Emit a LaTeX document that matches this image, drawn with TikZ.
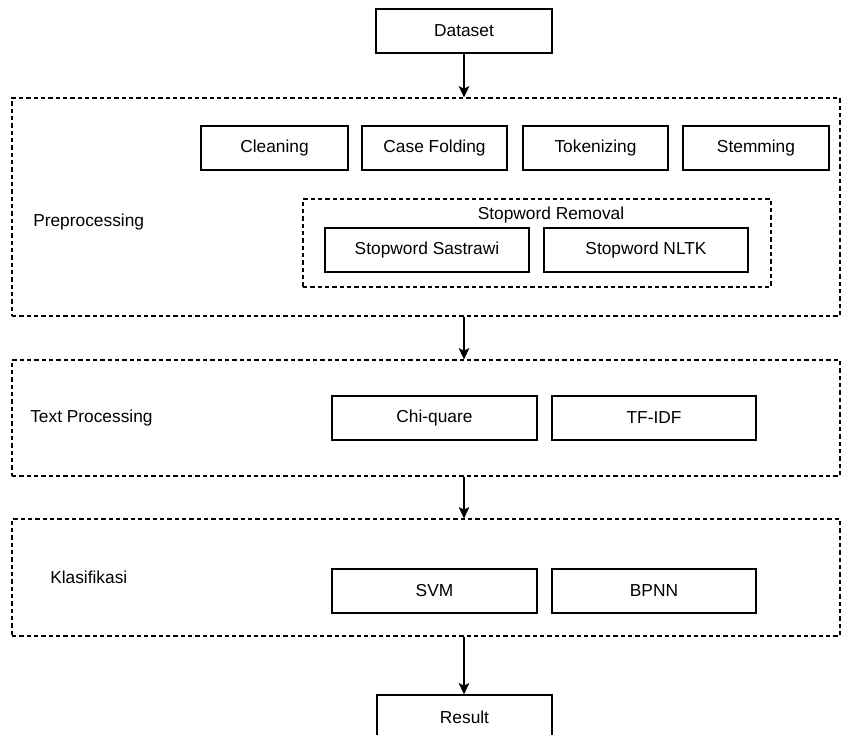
\documentclass[tikz,border=0pt]{standalone}
\usepackage{fontspec}
\setmainfont{Liberation Sans}
\usetikzlibrary{arrows.meta,calc}
\begin{document}
\begin{tikzpicture}[x=0.75pt,y=-0.75pt,
  font=\fontsize{13}{15}\selectfont,
  box/.style={draw=black,line width=1pt,fill=white,minimum height=44*0.75pt,inner sep=0pt},
  dbox/.style={draw=black,line width=0.9pt,dash pattern=on 3.2pt off 2.3pt,inner sep=0pt},
  lbl/.style={anchor=west,inner sep=0pt},
  arr/.style={draw=black,line width=1pt,-{Stealth[length=8.5pt,width=8pt,inset=2pt]}}]
\useasboundingbox (0,0) rectangle (847,735);
% containers
\node[dbox,minimum width=828*0.75pt,minimum height=218*0.75pt] (pre) at (426,207) {};
\node[dbox,minimum width=828*0.75pt,minimum height=116*0.75pt] (tp) at (426,418) {};
\node[dbox,minimum width=828*0.75pt,minimum height=117*0.75pt] (kl) at (426,577.5) {};
\node[dbox,minimum width=468*0.75pt,minimum height=88*0.75pt] (sw) at (537,243) {};
% labels
\node[lbl] (prel) at (33,222) {Preprocessing};
\node[lbl] (tpl) at (30,418) {Text Processing};
\node[lbl] (kll) at (50,577) {Klasifikasi};
\node[inner sep=0pt] (swl) at (551,215) {Stopword Removal};
% boxes
\node[box,minimum width=176*0.75pt] (dataset) at (464,31) {Dataset};
\node[box,minimum width=147*0.75pt] (clean) at (274.5,148) {Cleaning};
\node[box,minimum width=145*0.75pt] (case) at (434.5,148) {Case Folding};
\node[box,minimum width=145*0.75pt] (tok) at (595.5,148) {Tokenizing};
\node[box,minimum width=146*0.75pt] (stem) at (756,148) {Stemming};
\node[box,minimum width=204*0.75pt] (sast) at (427,250) {Stopword Sastrawi};
\node[box,minimum width=204*0.75pt] (nltk) at (646,250) {Stopword NLTK};
\node[box,minimum width=205*0.75pt] (chi) at (434.5,418) {Chi-quare};
\node[box,minimum width=204*0.75pt] (tfidf) at (654,418) {TF-IDF};
\node[box,minimum width=205*0.75pt] (svm) at (434.5,591) {SVM};
\node[box,minimum width=204*0.75pt] (bpnn) at (654,591) {BPNN};
\node[box,minimum width=175*0.75pt] (result) at (464.5,717) {Result};
% arrows
\draw[arr] (dataset.south) -- (dataset.south |- pre.north);
\draw[arr] (dataset.south |- pre.south) -- (dataset.south |- tp.north);
\draw[arr] (dataset.south |- tp.south) -- (dataset.south |- kl.north);
\draw[arr] (dataset.south |- kl.south) -- (dataset.south |- result.north);
\end{tikzpicture}
\end{document}
